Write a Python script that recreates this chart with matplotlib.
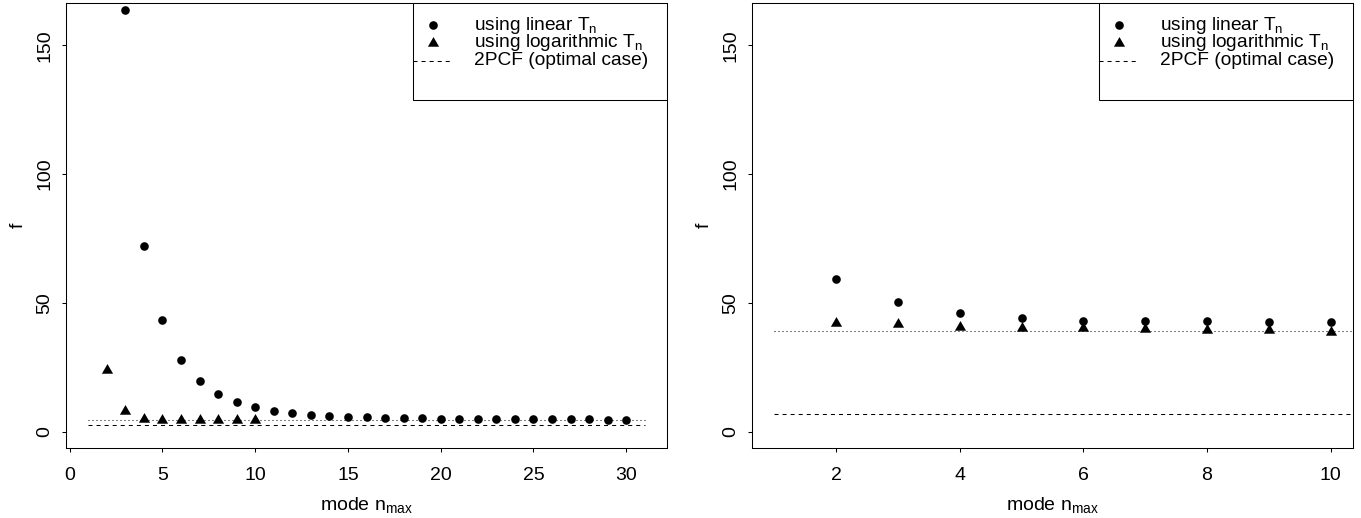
import matplotlib
matplotlib.use("Agg")
import matplotlib.pyplot as plt
from matplotlib.patches import Rectangle

plt.rcParams["font.family"] = ["Liberation Sans", "DejaVu Sans"]
plt.rcParams["font.size"] = 14
plt.rcParams["mathtext.fontset"] = "custom"
plt.rcParams["mathtext.rm"] = "Liberation Sans"
plt.rcParams["lines.scale_dashes"] = False

# left panel: n_max from 2..30
left_x_lin = list(range(3, 31))
left_f_lin = [163.6, 72.0, 43.4, 27.7, 19.6, 14.6, 11.4, 9.5, 8.0, 7.1,
              6.6, 6.1, 5.8, 5.6, 5.3, 5.2, 5.1, 5.0, 5.0, 4.9,
              4.9, 4.8, 4.8, 4.7, 4.7, 4.7, 4.6, 4.6]
left_x_log = list(range(2, 11))
left_f_log = [23.9, 7.8, 4.7, 4.6, 4.5, 4.5, 4.4, 4.4, 4.4]
left_dotted = 4.5
left_2pcf = 2.6
left_xticks = [0, 5, 10, 15, 20, 25, 30]

# right panel: n_max from 2..10
right_x = list(range(2, 11))
right_f_lin = [59.1, 50.3, 45.9, 44.2, 43.1, 42.8, 42.8, 42.6, 42.6]
right_f_log = [42.0, 41.7, 40.5, 40.1, 40.1, 39.9, 39.6, 39.4, 38.8]
right_dotted = 39.1
right_2pcf = 6.7
right_xticks = [2, 4, 6, 8, 10]

line_span = [1, 31]
yticks = [0, 50, 100, 150]

labels = ["using linear T$_\\mathregular{n}$",
          "using logarithmic T$_\\mathregular{n}$",
          "2PCF (optimal case)"]

# filled triangle centred on its centroid
TRI = [(0, 1.555), (1.347, -0.778), (-1.347, -0.778)]
DOTTED = (0, (0.72, 2.16))
DASHED = (0, (2.9, 2.9))


def draw_key(ax):
    # key box in the top right corner
    ax.add_patch(Rectangle((0.577, 0.782), 0.423, 0.218, transform=ax.transAxes,
                           facecolor="white", edgecolor="black", lw=0.75, zorder=4))
    rows = [0.9506, 0.9108, 0.8703]
    ax.plot([0.6106], [rows[0]], "o", color="black", ms=6.2, mew=0,
            transform=ax.transAxes, zorder=5, clip_on=False)
    ax.plot([0.6106], [rows[1]], marker=TRI, ls="none", color="black", ms=9.3, mew=0,
            transform=ax.transAxes, zorder=5, clip_on=False)
    ax.plot([0.577, 0.644], [rows[2], rows[2]], color="black", lw=0.75, ls=DASHED,
            transform=ax.transAxes, zorder=5, clip_on=False)
    for y, lab in zip(rows, labels):
        ax.text(0.679, y, lab, transform=ax.transAxes, ha="left", va="center",
                fontsize=13.8, zorder=6)


def draw_panel(ax, x_lin, f_lin, x_log, f_log, dotted, opt, xlim, xticks):
    ax.plot(line_span, [dotted, dotted], color="black", lw=0.75, ls=DOTTED)
    ax.plot(line_span, [opt, opt], color="black", lw=0.75, ls=DASHED)
    ax.plot(x_lin, f_lin, "o", color="black", ms=6.2, mew=0)
    ax.plot(x_log, f_log, marker=TRI, ls="none", color="black", ms=9.3, mew=0)
    pad = 0.04 * (xlim[1] - xlim[0])
    ax.set_xlim(xlim[0] - pad, xlim[1] + pad)
    ax.set_ylim(-6.4, 166.4)
    ax.set_xticks(xticks)
    ax.set_yticks(yticks)
    ax.tick_params(direction="out", length=3, width=0.75, labelsize=14)
    ax.tick_params(axis="x", pad=11)
    ax.tick_params(axis="y", pad=6)
    plt.setp(ax.get_yticklabels(), rotation=90, va="center")
    for s in ax.spines.values():
        s.set_linewidth(0.75)
    ax.set_xlabel("mode n$_\\mathregular{max}$", va="center")
    ax.xaxis.set_label_coords(0.5, -0.131)
    ax.set_ylabel("f", va="center")
    ax.yaxis.set_label_coords(-0.08, 0.5)
    draw_key(ax)


fig = plt.figure(figsize=(13.61, 5.18), dpi=100)
ax1 = fig.add_axes([0.0485, 0.1351, 0.4416, 0.859])
ax2 = fig.add_axes([0.5525, 0.1351, 0.4416, 0.859])

draw_panel(ax1, left_x_lin, left_f_lin, left_x_log, left_f_log,
           left_dotted, left_2pcf, (1, 31), left_xticks)
draw_panel(ax2, right_x, right_f_lin, right_x, right_f_log,
           right_dotted, right_2pcf, (1, 10), right_xticks)

fig.savefig("out.png", dpi=100)
